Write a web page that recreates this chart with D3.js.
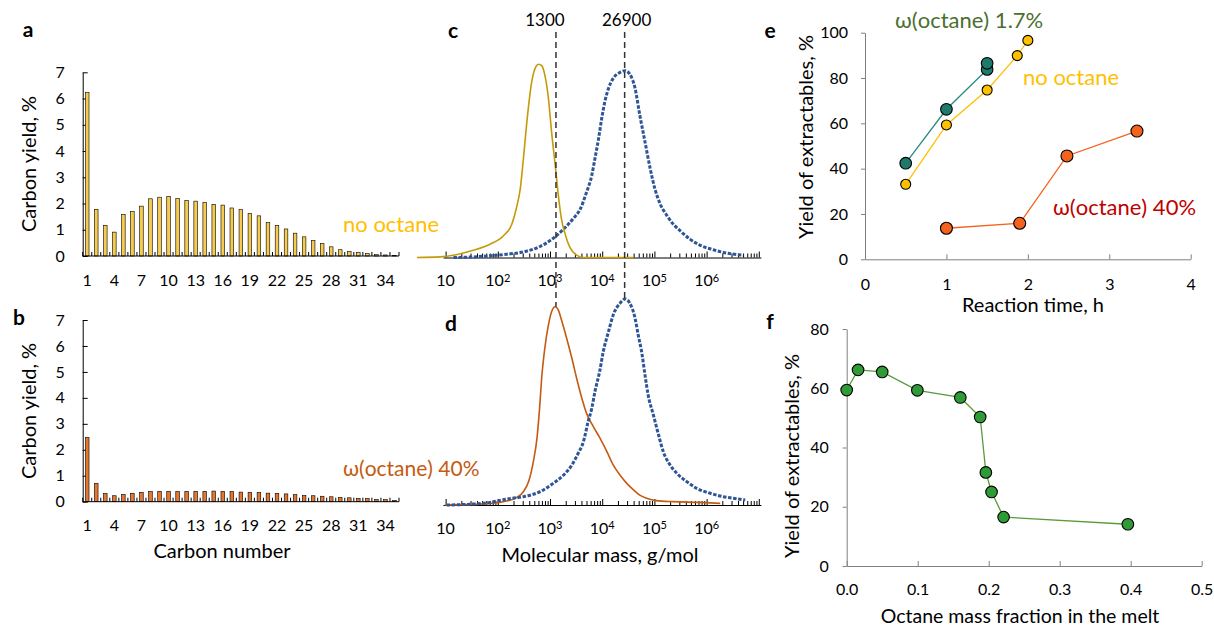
<!DOCTYPE html>
<html>
<head>
<meta charset="utf-8">
<script src="https://cdn.jsdelivr.net/npm/d3@7"></script>
<style>
  body { margin: 0; background: #fff; }
  text { font-family: Lato, "Open Sans", sans-serif; }
</style>
</head>
<body>
<svg id="chart" width="1214" height="628"></svg>
<script>
// ---- panels a, b: carbon number distribution
var carbonNumbers = [1, 2, 3, 4, 5, 6, 7, 8, 9, 10, 11, 12, 13, 14, 15, 16, 17, 18, 19, 20,
  21, 22, 23, 24, 25, 26, 27, 28, 29, 30, 31, 32, 33, 34, 35];
var carbonLabels = [1, 4, 7, 10, 13, 16, 19, 22, 25, 28, 31, 34];
var carbonYieldNoOctane = [6.24, 1.78, 1.17, 0.91, 1.59, 1.69, 1.90, 2.18, 2.24, 2.27, 2.19, 2.12,
  2.09, 2.04, 1.97, 1.94, 1.83, 1.77, 1.62, 1.53, 1.27, 1.17, 1.03, 0.87, 0.73, 0.59, 0.47, 0.35,
  0.24, 0.17, 0.13, 0.09, 0.05, 0.04, 0.02];
var carbonYieldOctane40 = [2.47, 0.71, 0.32, 0.23, 0.28, 0.32, 0.36, 0.39, 0.40, 0.40, 0.39, 0.40,
  0.40, 0.40, 0.41, 0.40, 0.39, 0.37, 0.36, 0.35, 0.33, 0.32, 0.30, 0.27, 0.24, 0.23, 0.21, 0.19,
  0.17, 0.15, 0.13, 0.12, 0.09, 0.08, 0.05];
var carbonYTicks = [0, 1, 2, 3, 4, 5, 6, 7];

// ---- panels c, d: molecular mass distributions (log10 M, normalised signal)
var gpcNoOctaneLogM = [0.45, 0.89, 1.53, 1.85, 2.11, 2.27, 2.36, 2.43, 2.49, 2.57, 2.65, 2.73, 2.78,
  2.84, 2.90, 2.97, 3.03, 3.10, 3.16, 3.22, 3.29, 3.38, 3.51, 3.64, 4.60];
var gpcNoOctaneSignal = [0.0, 0.003, 0.038, 0.069, 0.113, 0.173, 0.26, 0.355, 0.511, 0.737, 0.91,
  0.988, 1.0, 0.993, 0.945, 0.823, 0.65, 0.477, 0.321, 0.199, 0.121, 0.052, 0.012, 0.0, 0.0];
var gpcRefCLogM = [1.15, 1.53, 1.85, 2.17, 2.49, 2.81, 3.06, 3.26, 3.45, 3.58, 3.70, 3.80, 3.86,
  3.93, 3.99, 4.05, 4.12, 4.21, 4.34, 4.44, 4.53, 4.63, 4.72, 4.82, 4.92, 5.01, 5.11, 5.24, 5.36,
  5.49, 5.68, 5.87, 6.13, 6.38, 6.70];
var gpcRefCSignal = [0.0, 0.003, 0.009, 0.017, 0.029, 0.057, 0.099, 0.147, 0.203, 0.251, 0.338,
  0.425, 0.511, 0.615, 0.719, 0.806, 0.875, 0.927, 0.958, 0.967, 0.948, 0.875, 0.737, 0.598,
  0.459, 0.355, 0.277, 0.217, 0.173, 0.139, 0.095, 0.064, 0.040, 0.023, 0.012];
var gpcOctane40LogM = [0.99, 1.53, 1.85, 2.17, 2.36, 2.49, 2.59, 2.68, 2.75, 2.80, 2.84, 2.90,
  2.97, 3.03, 3.10, 3.16, 3.22, 3.32, 3.42, 3.51, 3.61, 3.70, 3.83, 3.96, 4.09, 4.21, 4.34, 4.47,
  4.60, 4.72, 4.85, 5.04, 5.36, 5.87, 6.26];
var gpcOctane40Signal = [0.0, 0.003, 0.008, 0.020, 0.037, 0.067, 0.118, 0.218, 0.336, 0.487,
  0.639, 0.79, 0.908, 0.975, 1.0, 0.983, 0.933, 0.840, 0.739, 0.639, 0.538, 0.462, 0.395, 0.336,
  0.269, 0.202, 0.151, 0.109, 0.076, 0.050, 0.034, 0.022, 0.017, 0.013, 0.008];
var gpcRefDLogM = [1.02, 1.53, 1.85, 2.17, 2.49, 2.81, 3.06, 3.26, 3.42, 3.54, 3.64, 3.73, 3.80,
  3.86, 3.95, 4.02, 4.12, 4.21, 4.34, 4.44, 4.53, 4.63, 4.69, 4.76, 4.82, 4.88, 4.98, 5.08, 5.17,
  5.30, 5.43, 5.62, 5.81, 6.07, 6.32, 6.51, 6.74];
var gpcRefDSignal = [0.0, 0.005, 0.013, 0.030, 0.042, 0.067, 0.109, 0.151, 0.202, 0.261, 0.319,
  0.42, 0.487, 0.571, 0.672, 0.773, 0.874, 0.958, 1.017, 1.039, 1.017, 0.941, 0.857, 0.765,
  0.655, 0.555, 0.454, 0.353, 0.269, 0.202, 0.160, 0.118, 0.084, 0.059, 0.042, 0.034, 0.025];
var peakMasses = [1300, 26900];
var massDecades = [1, 2, 3, 4, 5, 6];

// ---- panel e: yield vs reaction time
var timeOctane17 = [0.5, 1, 1.5, 1.5];
var yieldOctane17 = [42.4, 66.2, 83.8, 86.5];
var timeNoOctane = [0.5, 1, 1.5, 1.87, 2];
var yieldNoOctane = [33.1, 59.3, 74.7, 89.9, 96.6];
var timeOctane40 = [1, 1.9, 2.48, 3.34];
var yieldOctane40 = [13.7, 15.9, 45.6, 56.6];
var timeTicks = [0, 1, 2, 3, 4];
var yieldTicksE = [0, 20, 40, 60, 80, 100];

// ---- panel f: yield vs octane fraction
var octaneFraction = [0, 0.016, 0.05, 0.0995, 0.16, 0.188, 0.196, 0.204, 0.221, 0.396];
var extractYield = [59.4, 66.2, 65.5, 59.3, 56.9, 50.3, 31.6, 25.0, 16.5, 14.1];
var fractionTicks = [0, 0.1, 0.2, 0.3, 0.4, 0.5];
var yieldTicksF = [0, 20, 40, 60, 80];

var FONT = "Lato, 'Open Sans', sans-serif";
var svg = d3.select("#chart");
var intFmt = d3.format("d");

function styleAxis(g, color, size) {
  g.select(".domain").attr("stroke", color).attr("stroke-width", 1);
  g.selectAll(".tick line").attr("stroke", color);
  g.selectAll(".tick text").attr("font-family", FONT).attr("font-size", size).attr("fill", "#000");
}

function addText(x, y, txt, opts) {
  opts = opts || {};
  var t = svg.append("text")
    .attr("x", x)
    .attr("y", y)
    .attr("dy", "0.35em")
    .attr("text-anchor", opts.anchor || "start")
    .attr("font-size", opts.size || 20)
    .attr("font-weight", opts.weight || "normal")
    .attr("fill", opts.color || "#000")
    .text(txt);
  if (opts.rotate) t.attr("transform", "rotate(-90," + x + "," + y + ")");
  return t;
}

// ---- bar panels
function drawBars(values, yBottom, yTop, fill) {
  var x = d3.scaleBand().domain(carbonNumbers).range([82.7, 399]);
  var y = d3.scaleLinear().domain([0, 7]).range([yBottom, yTop]);
  var bw = x.bandwidth();

  svg.append("g")
    .attr("transform", "translate(82.7,0)")
    .call(d3.axisLeft(y).tickValues(carbonYTicks).tickFormat(intFmt)
      .tickSizeInner(-5).tickSizeOuter(0).tickPadding(18))
    .call(styleAxis, "#000", 16);

  svg.append("g").selectAll("rect")
    .data(values)
    .enter()
    .append("rect")
    .attr("x", function (d, i) { return x(carbonNumbers[i]) + bw / 2 - 1.8; })
    .attr("y", function (d) { return y(d); })
    .attr("width", 3.6)
    .attr("height", function (d) { return yBottom - y(d); })
    .attr("fill", fill)
    .attr("stroke", "#000")
    .attr("stroke-width", 0.6);

  // category boundary ticks (inside)
  var bounds = carbonNumbers.map(function (c) { return x(c); }).concat([x.range()[1]]);
  svg.append("g").selectAll("line")
    .data(bounds)
    .enter()
    .append("line")
    .attr("x1", function (d) { return d; })
    .attr("x2", function (d) { return d; })
    .attr("y1", yBottom)
    .attr("y2", yBottom - 4)
    .attr("stroke", "#000");

  svg.append("line")
    .attr("x1", x.range()[0]).attr("x2", x.range()[1])
    .attr("y1", yBottom).attr("y2", yBottom)
    .attr("stroke", "#000");

  svg.append("g").selectAll("text")
    .data(carbonLabels)
    .enter()
    .append("text")
    .attr("x", function (d) { return x(d) + bw / 2; })
    .attr("y", yBottom + 24)
    .attr("dy", "0.35em")
    .attr("text-anchor", "middle")
    .attr("font-size", 16)
    .text(function (d) { return d; });
}

drawBars(carbonYieldNoOctane, 256, 72.3, "#f7cb4d");
drawBars(carbonYieldOctane40, 501.7, 320, "#e8772e");

addText(28.5, 164, "Carbon yield, %", { anchor: "middle", rotate: true });
addText(28.5, 411, "Carbon yield, %", { anchor: "middle", rotate: true });
addText(222, 551, "Carbon number", { anchor: "middle" });
addText(343, 224, "no octane", { color: "#ffc000", size: 22 });
addText(343, 469, "\u03c9(octane) 40%", { color: "#c55a11", size: 21 });

// ---- GPC panels
var xM = d3.scaleLog().domain([Math.pow(10, 0.95), Math.pow(10, 7.04)]).range([443, 760.9]);
var logTicks = [];
massDecades.concat([7]).forEach(function (k) {
  logTicks.push(Math.pow(10, k));
  if (k < 7) for (var m = 2; m <= 9; m++) logTicks.push(m * Math.pow(10, k));
});

function drawGpc(yBase, yTop, series) {
  var y = d3.scaleLinear().domain([0, 1]).range([yBase, yTop]);
  var g = svg.append("g")
    .attr("transform", "translate(0," + yBase + ")")
    .call(d3.axisBottom(xM).tickValues(logTicks).tickSize(-4).tickSizeOuter(0).tickFormat(""))
    .call(styleAxis, "#000", 16);
  g.selectAll(".tick line")
    .filter(function (d) { return Math.abs(Math.log10(d) - Math.round(Math.log10(d))) < 1e-9; })
    .attr("y2", -6);

  var labels = svg.append("g").selectAll("text")
    .data(massDecades)
    .enter()
    .append("text")
    .attr("x", function (k) { return xM(Math.pow(10, k)); })
    .attr("y", yBase + 23)
    .attr("dy", "0.35em")
    .attr("text-anchor", "middle")
    .attr("font-size", 16);
  labels.append("tspan").text("10");
  labels.filter(function (k) { return k > 1; })
    .append("tspan")
    .attr("dy", "-0.4em")
    .attr("font-size", 11)
    .text(function (k) { return k; });

  var line = d3.line()
    .x(function (d) { return xM(Math.pow(10, d[0])); })
    .y(function (d) { return y(d[1]); })
    .curve(d3.curveMonotoneX);

  series.forEach(function (s) {
    var pts = d3.zip(s.logM, s.signal);
    svg.append("path")
      .datum(pts)
      .attr("d", line)
      .attr("fill", "none")
      .attr("stroke", s.color)
      .attr("stroke-width", s.width)
      .attr("stroke-dasharray", s.dash || null);
  });
  return y;
}

var yC = drawGpc(257.5, 64.3, [
  { logM: gpcRefCLogM, signal: gpcRefCSignal, color: "#2f5597", width: 3, dash: "3.5,1.6" },
  { logM: gpcNoOctaneLogM, signal: gpcNoOctaneSignal, color: "#c59a07", width: 1.6 }
]);
var yD = drawGpc(505, 306.7, [
  { logM: gpcOctane40LogM, signal: gpcOctane40Signal, color: "#c55a11", width: 1.6 },
  { logM: gpcRefDLogM, signal: gpcRefDSignal, color: "#2f5597", width: 3, dash: "3.5,1.6" }
]);

// peak marker lines, from the label in c down to the peaks in d
var peakTops = [d3.max(gpcOctane40Signal), d3.max(gpcRefDSignal)];
peakMasses.forEach(function (m, i) {
  svg.append("line")
    .attr("x1", xM(m)).attr("x2", xM(m))
    .attr("y1", 32).attr("y2", yD(peakTops[i]))
    .attr("stroke", "#333")
    .attr("stroke-width", 1.5)
    .attr("stroke-dasharray", "6,4");
});
addText(xM(peakMasses[0]) - 11, 20, "1300", { anchor: "middle", size: 17 });
addText(xM(peakMasses[1]) + 2, 20, "26900", { anchor: "middle", size: 17 });
addText(600, 555, "Molecular mass, g/mol", { anchor: "middle" });

// ---- panel e
var xE = d3.scaleLinear().domain([0, 4]).range([865, 1190.7]);
var yE = d3.scaleLinear().domain([0, 100]).range([259.3, 32.7]);
svg.append("g")
  .attr("transform", "translate(0,259.3)")
  .call(d3.axisBottom(xE).tickValues(timeTicks).tickFormat(intFmt)
    .tickSize(-5).tickSizeOuter(0).tickPadding(19))
  .call(styleAxis, "#808080", 16);
svg.append("g")
  .attr("transform", "translate(865,0)")
  .call(d3.axisLeft(yE).tickValues(yieldTicksE).tickFormat(intFmt)
    .tickSize(4).tickSizeOuter(0).tickPadding(13))
  .call(styleAxis, "#808080", 16);

function drawSeries(xs, ys, xScale, yScale, lineColor, fill, r) {
  var pts = d3.zip(xs, ys);
  svg.append("path")
    .datum(pts)
    .attr("d", d3.line()
      .x(function (d) { return xScale(d[0]); })
      .y(function (d) { return yScale(d[1]); }))
    .attr("fill", "none")
    .attr("stroke", lineColor)
    .attr("stroke-width", 1.3);
  svg.append("g").selectAll("circle")
    .data(pts)
    .enter()
    .append("circle")
    .attr("cx", function (d) { return xScale(d[0]); })
    .attr("cy", function (d) { return yScale(d[1]); })
    .attr("r", r)
    .attr("fill", fill)
    .attr("stroke", "#000")
    .attr("stroke-width", 1.1);
}

drawSeries(timeOctane17, yieldOctane17, xE, yE, "#2a8a80", "#1f7a6c", 5.8);
drawSeries(timeNoOctane, yieldNoOctane, xE, yE, "#ffc000", "#ffc000", 5);
drawSeries(timeOctane40, yieldOctane40, xE, yE, "#f4621b", "#f4621b", 6);

addText(806, 137, "Yield of extractables, %", { anchor: "middle", rotate: true });
addText(1033, 305, "Reaction time, h", { anchor: "middle" });
addText(895, 20, "\u03c9(octane) 1.7%", { color: "#4b6f2e", size: 22 });
addText(1023, 77, "no octane", { color: "#ffc000", size: 22 });
addText(1053, 207, "\u03c9(octane) 40%", { color: "#c00000", size: 22 });

// ---- panel f
var xF = d3.scaleLinear().domain([0, 0.5]).range([846.7, 1201.7]);
var yF = d3.scaleLinear().domain([0, 80]).range([566, 329]);
svg.append("g")
  .attr("transform", "translate(0,566)")
  .call(d3.axisBottom(xF).tickValues(fractionTicks).tickSize(-5).tickSizeOuter(0).tickPadding(18)
    .tickFormat(d3.format(".1f")))
  .call(styleAxis, "#808080", 16);
svg.append("g")
  .attr("transform", "translate(846.7,0)")
  .call(d3.axisLeft(yF).tickValues(yieldTicksF).tickFormat(intFmt)
    .tickSize(4).tickSizeOuter(0).tickPadding(14))
  .call(styleAxis, "#808080", 16);

drawSeries(octaneFraction, extractYield, xF, yF, "#5b9a3c", "#2f9b37", 5.8);
addText(792, 456, "Yield of extractables, %", { anchor: "middle", rotate: true });
addText(1020, 616, "Octane mass fraction in the melt", { anchor: "middle", size: 19.5 });

// ---- panel letters
[["a", 28, 30], ["b", 19, 318], ["c", 453, 31], ["d", 451, 324], ["e", 770, 31], ["f", 770, 322]]
  .forEach(function (p) {
    addText(p[1], p[2], p[0], { anchor: "middle", size: 21, weight: "bold" });
  });
</script>
</body>
</html>
